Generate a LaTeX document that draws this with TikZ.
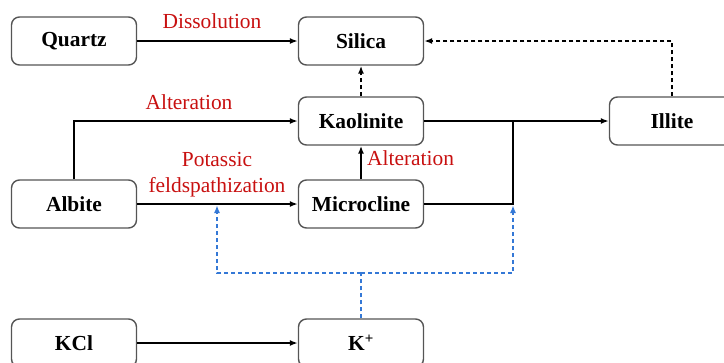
\documentclass[tikz,border=0pt]{standalone}
\usepackage{fontspec}
\setmainfont{Liberation Serif}
\usetikzlibrary{arrows.meta}
\definecolor{lblred}{RGB}{200,16,16}
\definecolor{kblue}{RGB}{52,120,214}
\definecolor{boxgray}{RGB}{85,85,85}
\tikzset{
  box/.style={draw=boxgray, line width=1.4bp, rounded corners=8bp, minimum width=125bp, minimum height=48bp, inner sep=0pt, font=\fontsize{21.5}{26}\selectfont\bfseries},
  conn/.style={line width=1.6bp, -{Latex[length=8bp,width=6bp]}},
  plain/.style={line width=1.6bp},
  dconn/.style={line width=1.6bp, dash pattern=on 4bp off 3bp, -{Latex[length=8bp,width=6bp]}},
  bconn/.style={kblue, line width=1.6bp, dash pattern=on 4bp off 3bp, -{Latex[length=8bp,width=6bp]}},
  bline/.style={kblue, line width=1.6bp, dash pattern=on 4bp off 3bp},
  lbl/.style={text=lblred, font=\fontsize{21.5}{26}\selectfont, inner sep=0pt, anchor=base, align=center}
}
\begin{document}
\begin{tikzpicture}[x=1bp,y=-1bp]
\useasboundingbox (0,0) rectangle (724,362);
\node[box] (quartz) at (74,41) {Quartz};
\node[box] (silica) at (361,41) {Silica};
\node[box] (kaol) at (361,121) {Kaolinite};
\node[box] (illite) at (672,121) {Illite};
\node[box] (albite) at (74,204) {Albite};
\node[box] (micro) at (361,204) {Microcline};
\node[box] (kcl) at (74,343) {KCl};
\node[box] (kp) at (361,343) {K\textsuperscript{+}};

\coordinate (j1) at (513,121);
\coordinate (j2) at (513,204);
\coordinate (bk) at (361,273);
\coordinate (bl) at (217,273);
\coordinate (br) at (513,273);
\coordinate (tl) at (217,205);
\coordinate (tr) at (513,205);

\draw[conn] (quartz.east) -- (silica.west);
\draw[conn] (albite.north) |- (kaol.west);
\draw[conn] (albite.east) -- (micro.west);
\draw[conn] (micro.north) -- (kaol.south);
\draw[dconn] (kaol.north) -- (silica.south);
\draw[dconn] (illite.north) |- (silica.east);
\draw[conn] (kaol.east) -- (illite.west);
\draw[plain] (micro.east) -- (j2) -- (j1);
\draw[conn] (kcl.east) -- (kp.west);

\draw[bline] (kp.north) -- (bk);
\draw[bconn] (bk) -- (bl) -- (tl);
\draw[bconn] (bk) -- (br) -- (tr);

\node[lbl] (ldiss) at (212,28) {Dissolution};
\node[lbl] (lalt1) at (189,109) {Alteration};
\node[lbl] (lpot) at (217,166) {Potassic};
\node[lbl] (lfeld) at (217,192) {feldspathization};
\node[lbl, anchor=base west] (lalt2) at (367,165) {Alteration};
\end{tikzpicture}
\end{document}
